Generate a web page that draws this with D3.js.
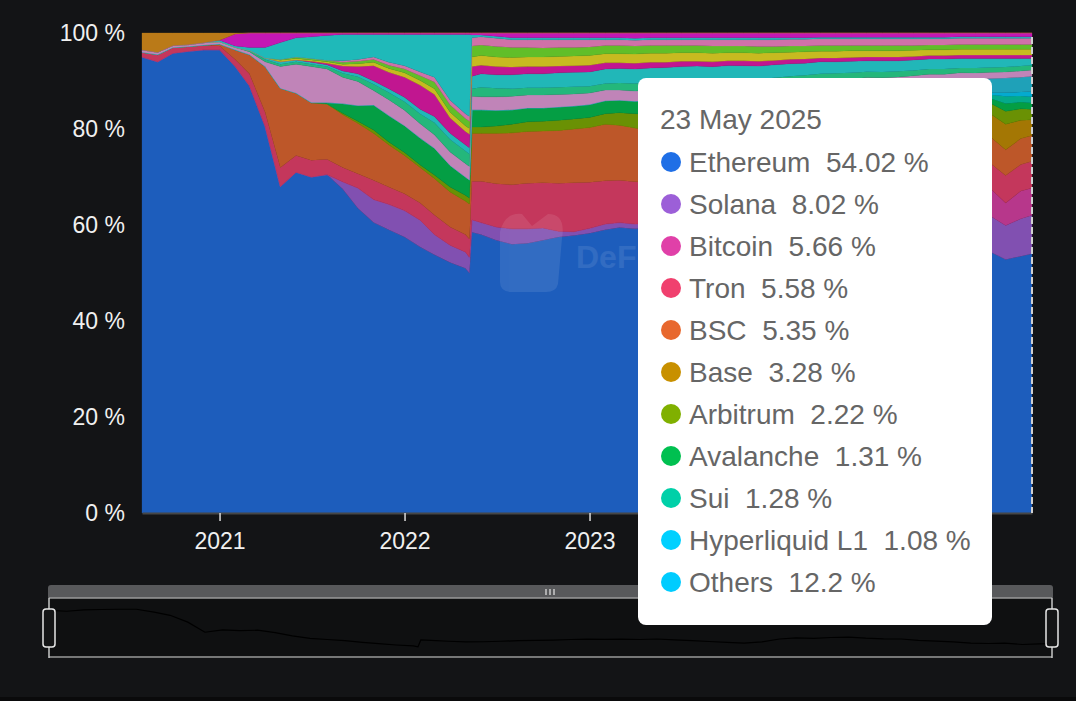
<!DOCTYPE html>
<html lang="en">
<head>
<meta charset="utf-8">
<title>Chain dominance</title>
<script src="https://d3js.org/d3.v7.min.js"></script>
<style>
  body { margin: 0; background: #131416; }
  svg { display: block; }
  text { font-family: "Liberation Sans", Arial, Helvetica, sans-serif; }
</style>
</head>
<body>
<div id="chart"></div>
<script>
// monthly snapshots (plus the Terra collapse days and the last day)
var dates = [
  "2020-08-01","2020-09-01","2020-10-01","2020-11-01","2020-12-01","2021-01-01","2021-02-01","2021-03-01","2021-04-01","2021-05-01",
  "2021-06-01","2021-07-01","2021-08-01","2021-09-01","2021-10-01","2021-11-01","2021-12-01","2022-01-01","2022-02-01","2022-03-01",
  "2022-04-01","2022-05-01","2022-05-09","2022-05-14","2022-06-01","2022-07-01","2022-08-01","2022-09-01","2022-10-01","2022-11-01",
  "2022-12-01","2023-01-01","2023-02-01","2023-03-01","2023-04-01","2023-05-01","2023-06-01","2023-07-01","2023-08-01","2023-09-01",
  "2023-10-01","2023-11-01","2023-12-01","2024-01-01","2024-02-01","2024-03-01","2024-04-01","2024-05-01","2024-06-01","2024-07-01",
  "2024-08-01","2024-09-01","2024-10-01","2024-11-01","2024-12-01","2025-01-01","2025-02-01","2025-03-01","2025-04-01","2025-05-01",
  "2025-05-23"];

// share of TVL, %
var ethereum = [
  95.0,94.0,95.8,96.2,96.5,96.5,93.0,89.0,80.5,68.0,
  71.0,70.0,70.5,67.5,63.5,60.5,59.0,57.5,55.4,53.8,
  52.2,51.0,50.0,58.5,58.0,56.8,56.0,56.2,56.8,57.5,
  57.8,58.3,59.0,59.5,59.2,59.5,59.0,59.6,58.5,57.5,
  56.5,55.5,54.6,56.0,59.6,61.0,60.5,61.5,62.0,60.6,
  59.7,59.6,58.0,57.0,56.0,54.6,54.0,54.5,52.8,53.5,
  54.02];
var solana = [
  0,0,0,0,0,0,0,0,0,0,
  0,0,0,1.5,4.2,4.8,5.3,5.5,5.6,4.2,
  3.6,3.4,3.3,2.6,2.5,2.8,3.2,3.0,2.6,1.2,
  0.8,1.0,1.2,1.0,1.0,0.8,0.8,0.8,0.8,0.9,
  1.0,1.5,2.5,3.0,3.0,4.0,4.0,4.5,4.5,5.0,
  5.0,5.5,6.0,7.0,7.5,9.0,8.5,7.5,7.1,7.8,
  8.02];
var bitcoin = [
  0,0,0,0,0,0,0,0,0,0,
  0,0,0,0,0,0,0,0,0,0,
  0,0,0,0,0,0,0,0,0,0,
  0,0,0,0,0,0,0,0,0,0,
  0.1,0.3,0.5,0.8,1.0,1.5,2.5,3.0,3.5,4.0,
  4.5,5.0,5.0,5.5,6.0,6.0,6.0,5.8,4.7,5.8,
  5.66];
var tron = [
  1.0,1.5,1.2,1.0,1.0,0.8,1.5,2.5,3.0,4.0,
  3.5,3.5,3.2,3.0,3.0,4.0,3.6,3.5,3.6,4.1,
  3.8,3.6,3.8,8.0,8.6,9.0,9.2,9.5,9.4,10.0,
  10.2,9.6,9.0,8.8,8.8,8.6,9.0,8.8,9.0,9.5,
  10.0,10.0,9.5,8.5,7.5,6.5,6.5,6.0,6.0,6.5,
  7.0,6.5,6.5,6.0,5.5,5.5,5.5,5.2,5.7,5.5,
  5.58];
var bsc = [
  0,0,0,0,0,0.4,2.0,4.0,9.5,16.5,
  13.0,12.0,11.5,11.0,10.5,9.8,8.8,8.0,7.4,7.6,
  7.3,7.0,7.3,10.0,10.0,10.5,10.8,10.8,10.8,11.0,
  11.2,11.4,11.8,11.5,11.2,10.8,10.5,9.8,9.5,9.3,
  9.5,9.3,9.0,8.5,7.5,6.8,6.5,6.0,5.5,5.5,
  5.3,5.0,5.5,5.5,5.3,5.0,5.5,5.5,5.4,5.4,
  5.35];
var base = [
  0,0,0,0,0,0,0,0,0,0,
  0,0,0,0,0,0,0,0,0,0,
  0,0,0,0,0,0,0,0,0,0,
  0,0,0,0,0,0,0,0,1.0,1.5,
  1.6,1.6,1.5,1.4,1.3,1.6,2.0,2.0,2.0,2.2,
  2.5,2.5,3.0,3.3,3.5,3.5,4.0,4.8,5.3,3.8,
  3.28];
var arbitrum = [
  0,0,0,0,0,0,0,0,0,0,
  0,0,0,0.3,0.4,0.7,0.6,0.6,0.5,0.7,
  1.0,1.2,1.2,1.3,1.3,1.5,1.8,2.0,2.0,2.1,
  2.1,2.1,2.2,2.6,3.0,3.3,3.8,4.0,4.0,4.0,
  4.0,4.3,4.5,4.5,3.5,3.0,2.9,2.6,2.4,2.2,
  2.0,1.9,1.9,1.8,1.9,1.9,2.0,2.2,2.7,2.4,
  2.22];
var avalanche = [
  0,0,0,0,0,0,0,0,0,0,
  0,0,0.3,2.0,3.3,5.2,5.5,5.6,5.6,5.6,
  4.5,3.8,3.8,3.6,3.6,3.3,3.0,2.9,2.8,2.8,
  2.7,2.7,2.7,2.6,2.6,2.6,2.6,2.6,2.6,2.5,
  2.6,2.7,2.9,2.6,2.3,1.8,1.5,1.1,0.9,0.9,
  0.8,0.8,0.8,0.8,0.9,1.0,1.0,1.0,1.6,1.4,
  1.31];
var sui = [
  0,0,0,0,0,0,0,0,0,0,
  0,0,0,0,0,0,0,0,0,0,
  0,0,0,0,0,0,0,0,0,0,
  0,0,0,0,0,0.4,0.5,0.5,0.5,0.5,
  0.5,0.6,0.7,0.8,0.7,0.5,0.5,0.4,0.3,0.4,
  0.5,0.5,0.8,0.8,0.8,0.9,0.8,0.7,1.5,1.3,
  1.28];
var hyperliquid = [
  0,0,0,0,0,0,0,0,0,0,
  0,0,0,0,0,0,0,0,0,0,
  0,0,0,0,0,0,0,0,0,0,
  0,0,0,0,0,0,0,0,0,0,
  0,0,0,0,0,0,0,0,0,0,
  0,0,0,0,0.2,0.4,0.4,0.5,0.8,0.8,
  1.08];
var mantle = [
  0,0,0,0,0,0,0,0,0,0,
  0,0,0,0,0,0,0,0,0,0,
  0,0,0,0,0,0,0,0,0,0,
  0,0,0,0,0,0,0,0.3,0.7,0.8,
  1.1,1.0,1.3,1.2,1.5,1.4,1.7,1.6,1.9,2.1,
  1.9,2.2,2.1,2.4,2.3,2.6,2.5,2.9,3.0,3.1,
  3.2];
var polygon = [
  0.5,0.5,0.4,0.4,0.5,0.5,0.5,0.6,1.0,4.5,
  6.0,7.5,7.0,5.5,5.0,3.0,3.3,3.2,3.0,2.8,
  2.8,2.8,2.8,2.8,2.7,2.8,2.8,2.7,2.7,2.6,
  2.5,2.4,2.2,2.1,2.1,2.1,2.0,2.0,2.0,1.9,
  1.9,1.9,1.9,1.8,1.7,1.6,1.6,1.5,1.5,1.5,
  1.4,1.4,1.4,1.4,1.4,1.4,1.4,1.3,1.3,1.3,
  1.3];
var optimism = [
  0,0,0,0,0,0,0,0.3,0.5,0.5,
  0.5,0.5,0.5,0.8,1.0,1.3,1.5,1.8,2.0,2.5,
  2.6,2.6,2.6,1.6,2.0,1.8,1.6,1.5,1.5,1.5,
  1.5,1.4,1.4,1.5,1.6,1.6,1.6,1.7,1.7,1.7,
  1.7,1.6,1.6,1.5,1.5,1.4,1.4,1.3,1.3,1.2,
  1.2,1.2,1.1,1.1,1.1,1.0,1.0,1.0,1.0,1.0,
  1.0];
var cronos = [
  0,0,0,0,0,0,0,0,0.3,0.5,
  0.4,0.4,0.4,0.5,0.6,0.7,0.8,0.9,1.0,1.3,
  1.3,1.3,1.3,2.6,2.8,2.8,2.9,2.9,2.9,3.0,
  3.0,3.0,3.0,3.0,3.0,3.0,3.0,2.9,2.9,2.8,
  2.8,2.8,2.7,2.7,2.6,2.5,2.5,2.4,2.4,2.3,
  2.3,2.2,2.2,2.1,2.1,2.0,2.0,1.9,1.8,1.6,
  1.4];
var fantom = [
  0,0,0,0,0,0,0,0,0,0,
  0,0.2,0.3,1.0,1.5,3.2,3.4,4.2,5.0,4.6,
  3.2,2.8,2.8,2.0,1.8,1.7,1.6,1.5,1.5,1.4,
  1.4,1.4,1.3,1.2,1.2,1.2,1.1,1.1,1.0,1.0,
  1.0,1.0,1.0,0.9,0.9,0.9,0.8,0.8,0.8,0.8,
  0.8,0.8,0.7,0.7,0.7,0.7,0.7,0.7,0.7,0.7,
  0.7];
var linea = [
  0,0,0,0,0,0,0,0,0,0.3,
  0.3,0.3,0.3,0.4,0.6,0.7,0.8,0.9,1.0,1.2,
  1.2,1.2,1.2,2.0,2.0,2.0,2.0,2.0,2.0,2.0,
  2.0,2.0,1.9,1.9,1.9,1.9,1.9,1.8,1.8,1.8,
  1.7,1.7,1.7,1.6,1.5,1.5,1.4,1.4,1.4,1.3,
  1.3,1.3,1.3,1.2,1.2,1.2,1.2,1.2,1.2,1.2,
  1.2];
var kava = [
  0,0,0,0,0,0,0,0,0,0.2,
  0.3,0.3,0.3,0.4,0.5,0.6,0.7,0.8,1.0,1.4,
  1.5,1.5,1.5,2.3,2.2,2.2,2.1,2.0,1.9,1.9,
  1.8,1.8,1.7,1.7,1.7,1.6,1.6,1.5,1.5,1.5,
  1.4,1.4,1.4,1.3,1.3,1.2,1.2,1.2,1.1,1.1,
  1.1,1.1,1.0,1.0,1.0,1.0,1.0,1.0,1.0,1.0,
  1.0];
var aptos = [
  0,0,0,0,0,0,0,0,0,0,
  0,0,0,0.3,0.4,0.5,0.6,0.7,0.8,1.0,
  1.0,1.0,1.0,1.7,1.7,1.7,1.6,1.6,1.7,1.6,
  1.6,1.5,1.2,1.2,1.2,1.2,1.2,1.2,1.2,1.3,
  1.3,1.3,1.4,1.4,1.4,1.4,1.4,1.4,1.4,1.4,
  1.4,1.4,1.4,1.3,1.3,1.3,1.3,1.3,1.3,1.3,
  1.3];
var terra = [
  0,0,0,0,0,0.3,0.3,0.6,2.2,3.5,
  4.0,4.5,5.2,5.5,5.2,4.7,5.8,6.5,7.8,8.9,
  13.7,16.5,17.1,0.6,0.4,0.4,0.4,0.4,0.4,0.4,
  0.4,0.4,0.4,0.4,0.4,0.4,0.4,0.4,0.4,0.4,
  0.4,0.4,0.4,0.4,0.3,0.3,0.3,0.3,0.3,0.3,
  0.3,0.3,0.3,0.3,0.3,0.3,0.3,0.3,0.3,0.3,
  0.3];
var heco = [
  0,0,0,0,0,0,2.5,3.0,3.0,2.0,
  1.0,0.8,0.5,0.3,0.3,0.3,0.3,0.3,0.3,0.3,
  0.3,0.3,0.3,0.4,0.4,0.7,1.0,1.0,1.0,1.0,
  1.0,1.0,1.0,1.0,1.1,1.0,1.0,1.0,1.0,1.0,
  1.0,1.0,1.0,1.0,1.0,1.0,0.9,0.9,0.9,0.9,
  0.9,0.9,0.9,0.9,0.9,0.8,0.8,0.8,0.8,0.8,
  0.8];
var waves = [
  3.5,4.0,2.6,2.4,2.0,1.5,0.2,0,0,0,
  0,0,0,0,0,0,0,0,0,0,
  0,0,0,0,0,0,0,0,0,0,
  0,0,0,0,0,0,0,0,0,0,
  0,0,0,0,0,0,0,0,0,0,
  0,0,0,0,0,0,0,0,0,0,
  0];

var chainNames = ["Ethereum","Solana","Bitcoin","Tron","BSC","Base","Arbitrum","Avalanche","Sui","Hyperliquid L1",
  "Mantle","Polygon","Optimism","Cronos","Fantom","Linea","Kava","Aptos","Terra","Heco","Waves"];
var chainValues = [ethereum, solana, bitcoin, tron, bsc, base, arbitrum, avalanche, sui, hyperliquid,
  mantle, polygon, optimism, cronos, fantom, linea, kava, aptos, terra, heco, waves];
var chainColors = ["#1f6fe6","#9c5fd8","#e040a8","#f0406e","#e8682e","#c89000","#80b000","#00c050","#00d0a8","#00d0ff",
  "#22c4e0","#eba0e0","#28e094","#24e0e0","#ec16ae","#f4e422","#74e82e","#ff88cc","#22e2e2","#f018dc","#e49418"];
var othersColor = "#00ccff";
var yTicks = [0, 0.2, 0.4, 0.6, 0.8, 1];
var yearTicks = ["2021","2022","2023","2024","2025"];
var topCount = 10;

var W = 1076, H = 701;
var plot = {left: 142, right: 1032, top: 33, bottom: 513};
var tipBox = {x: 638, y: 78, w: 354, h: 547};
var bg = "#131416";
var parseDate = d3.timeParse("%Y-%m-%d");

var table = dates.map(function (d, i) {
  var row = {date: parseDate(d)};
  chainValues.forEach(function (vals, k) { row[chainNames[k]] = vals[i]; });
  return row;
});

var stacked = d3.stack()
  .keys(chainNames)
  .order(d3.stackOrderNone)
  .offset(d3.stackOffsetExpand)(table);

var xScale = d3.scaleTime()
  .domain(d3.extent(table, function (d) { return d.date; }))
  .range([plot.left, plot.right]);
var yScale = d3.scaleLinear().domain([0, 1]).range([plot.bottom, plot.top]);

var svg = d3.select("#chart").append("svg")
  .attr("width", W)
  .attr("height", H);

svg.append("rect").attr("width", W).attr("height", H).attr("fill", bg);
svg.append("rect").attr("x", 0).attr("y", 697).attr("width", W).attr("height", 4).attr("fill", "#0a0a0b");

// stacked areas
var area = d3.area()
  .x(function (d) { return xScale(d.data.date); })
  .y0(function (d) { return yScale(d[0]); })
  .y1(function (d) { return yScale(d[1]); });

function shade(c) { return d3.interpolateRgb(bg, c)(0.8); }

svg.append("g").selectAll("path")
  .data(stacked)
  .enter().append("path")
  .attr("d", area)
  .attr("fill", function (d, i) { return shade(chainColors[i]); })
  .attr("stroke", function (d, i) { return shade(chainColors[i]); })
  .attr("stroke-width", 0.3);

// watermark (only its left part shows beside the tooltip)
var mark = svg.append("g").attr("opacity", 0.09);
mark.append("path")
  .attr("d", "M500,232 Q505,212 522,214 L532,226 L548,214 Q566,214 562,238 L558,284 Q556,292 546,292 L512,292 Q500,292 500,282 Z")
  .attr("fill", "#ffffff");
mark.append("text")
  .attr("x", 576).attr("y", 268)
  .attr("font-size", 32).attr("font-weight", "bold")
  .attr("fill", "#ffffff")
  .text("DeFi");

// y axis
var yAxis = svg.append("g")
  .attr("transform", "translate(" + plot.left + ",0)")
  .call(d3.axisLeft(yScale).tickValues(yTicks)
    .tickFormat(function (d) { return Math.round(d * 100) + " %"; })
    .tickSize(0).tickPadding(17));
yAxis.select(".domain").remove();
yAxis.selectAll("text").attr("font-size", 23).attr("fill", "#f0f0f0")
  .style("font-family", "'Liberation Sans', Arial, sans-serif");

// x axis; labels that sit under the tooltip are left blank
var yearFmt = d3.timeFormat("%Y");
var xAxis = svg.append("g")
  .attr("transform", "translate(0," + plot.bottom + ")")
  .call(d3.axisBottom(xScale)
    .tickValues(yearTicks.map(function (y) { return parseDate(y + "-01-01"); }))
    .tickFormat(function (d) {
      var px = xScale(d);
      return (px > tipBox.x - 25 && px < tipBox.x + tipBox.w + 25) ? "" : yearFmt(d);
    })
    .tickSize(8).tickSizeOuter(0).tickPadding(12));
xAxis.select(".domain").attr("stroke", "#464646").attr("stroke-width", 2);
xAxis.selectAll(".tick line").attr("stroke", "#dcdcdc").attr("stroke-width", 1.5);
xAxis.selectAll("text").attr("font-size", 23).attr("fill", "#f0f0f0")
  .style("font-family", "'Liberation Sans', Arial, sans-serif");

// pointer line at the hovered date
var last = table.length - 1;
svg.append("line")
  .attr("x1", xScale(table[last].date)).attr("x2", xScale(table[last].date))
  .attr("y1", 37).attr("y2", plot.bottom)
  .attr("stroke", "#d0d0d0").attr("stroke-width", 2)
  .attr("stroke-dasharray", "7,3");

// data zoom slider with the Ethereum shadow
var zoomBox = {left: 49, right: 1052, top: 598, bottom: 658};
var zx = d3.scaleTime().domain(xScale.domain()).range([zoomBox.left, zoomBox.right]);
var ext = d3.extent(ethereum);
var pad = (ext[1] - ext[0]) * 0.3;
var zy = d3.scaleLinear().domain([ext[0] - pad, ext[1] + pad]).range([zoomBox.bottom, zoomBox.top]);

svg.append("rect")
  .attr("x", zoomBox.left).attr("y", zoomBox.top)
  .attr("width", zoomBox.right - zoomBox.left).attr("height", zoomBox.bottom - zoomBox.top)
  .attr("fill", "#0f1011");
svg.append("path")
  .attr("d", "M48,598 L48,588 Q48,585 51,585 L1050,585 Q1053,585 1053,588 L1053,598 Z")
  .attr("fill", "#58595b");
[546, 550, 554].forEach(function (gx) {
  svg.append("line").attr("x1", gx).attr("x2", gx).attr("y1", 589).attr("y2", 595)
    .attr("stroke", "#e8e8e8").attr("stroke-width", 1.2);
});
svg.append("path")
  .datum(table)
  .attr("d", d3.line()
    .x(function (d) { return zx(d.date); })
    .y(function (d) { return zy(d.Ethereum); }))
  .attr("fill", "none").attr("stroke", "#000").attr("stroke-width", 1.2);
[zoomBox.top, zoomBox.bottom - 1].forEach(function (ly) {
  svg.append("line").attr("x1", zoomBox.left).attr("x2", zoomBox.right)
    .attr("y1", ly).attr("y2", ly).attr("stroke", "#9a9a9a").attr("stroke-width", 1.5);
});
[zoomBox.left, zoomBox.right].forEach(function (hx) {
  svg.append("line").attr("x1", hx).attr("x2", hx).attr("y1", zoomBox.top).attr("y2", zoomBox.bottom)
    .attr("stroke", "#c8c8c8").attr("stroke-width", 1.5);
  svg.append("rect").attr("x", hx - 6).attr("y", 609).attr("width", 12).attr("height", 38)
    .attr("rx", 3).attr("fill", "#141516").attr("stroke", "#e6e6e6").attr("stroke-width", 1.5);
});

// tooltip
var topValues = chainValues.slice(0, topCount).map(function (v) { return v[last]; });
var rows = chainNames.slice(0, topCount).map(function (n, k) {
  return {name: n, value: topValues[k], color: chainColors[k]};
});
rows.push({name: "Others", value: 100 - d3.sum(topValues), color: othersColor});

var tip = svg.append("g").attr("transform", "translate(" + tipBox.x + "," + tipBox.y + ")");
tip.append("rect").attr("width", tipBox.w).attr("height", tipBox.h).attr("rx", 8).attr("fill", "#ffffff");
tip.append("text").attr("x", 22).attr("y", 51)
  .attr("font-size", 28).attr("fill", "#666")
  .text(d3.timeFormat("%-d %B %Y")(table[last].date));
var tipRows = tip.selectAll(".row").data(rows).enter().append("g")
  .attr("transform", function (d, i) { return "translate(0," + (i * 42) + ")"; });
tipRows.append("circle").attr("cx", 33).attr("cy", 84).attr("r", 10)
  .attr("fill", function (d) { return d.color; });
tipRows.append("text").attr("x", 51).attr("y", 94)
  .attr("font-size", 28).attr("fill", "#666")
  .style("white-space", "pre")
  .text(function (d) { return d.name + "  " + (+d.value.toFixed(2)) + " %"; });
</script>
</body>
</html>
